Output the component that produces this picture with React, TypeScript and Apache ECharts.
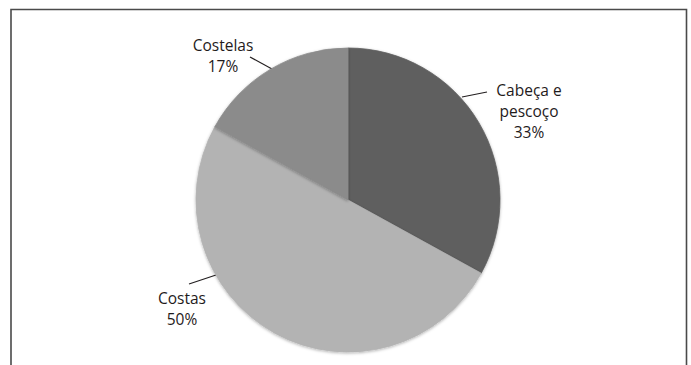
import React, { useEffect, useRef } from "react";
import * as echarts from "echarts";

const categories = ["Cabeça e\npescoço", "Costas", "Costelas"];
const values = [33, 50, 17];
const colors = ["#5f5f5f", "#b3b3b3", "#8b8b8b"];

// label placement (layout only)
const labelPlaces = [
  { x: 529, y: 111, line: [[462, 97], [487, 92]] },
  { x: 182, y: 308, line: [[189, 284], [216, 275]] },
  { x: 223, y: 55, line: [[250, 57], [272, 69]] },
];

export default function App() {
  const ref = useRef<HTMLDivElement>(null);
  useEffect(() => {
    document.body.style.margin = "0";
    const chart = echarts.init(ref.current!, null, { renderer: "svg" });
    chart.setOption({
      animation: false,
      backgroundColor: "#ffffff",
      graphic: [
        {
          type: "rect",
          shape: { x: 11, y: 9.5, width: 675.5, height: 420 },
          style: { fill: "none", stroke: "#4a4a4a", lineWidth: 1.6 },
          silent: true,
        },
      ],
      series: [
        {
          type: "pie",
          center: [348, 200],
          radius: 152,
          startAngle: 90,
          clockwise: true,
          avoidLabelOverlap: false,
          data: categories.map((c, i) => ({
            name: c,
            value: values[i],
            itemStyle: { color: colors[i], borderColor: colors[i], borderWidth: 0.8 },
          })),
          itemStyle: {
            shadowBlur: 3,
            shadowColor: "rgba(0,0,0,0.3)",
            shadowOffsetY: 1,
          },
          emphasis: { disabled: true },
          label: {
            show: true,
            position: "outside",
            formatter: (p: any) => `${p.name}\n${p.value}%`,
            fontFamily: "Open Sans",
            fontSize: 15.5,
            lineHeight: 21,
            color: "#1f1b1c",
            align: "center",
          },
          labelLine: {
            show: true,
            length: 20,
            length2: 0,
            lineStyle: { color: "#231f20", width: 1.2 },
          },
          labelLayout: (params: any) => {
            const p = labelPlaces[params.dataIndex];
            return {
              x: p.x,
              y: p.y,
              align: "center",
              verticalAlign: "middle",
              labelLinePoints: p.line,
            };
          },
        },
      ],
    });
    return () => chart.dispose();
  }, []);
  return <div ref={ref} style={{ width: 691, height: 365 }} />;
}
